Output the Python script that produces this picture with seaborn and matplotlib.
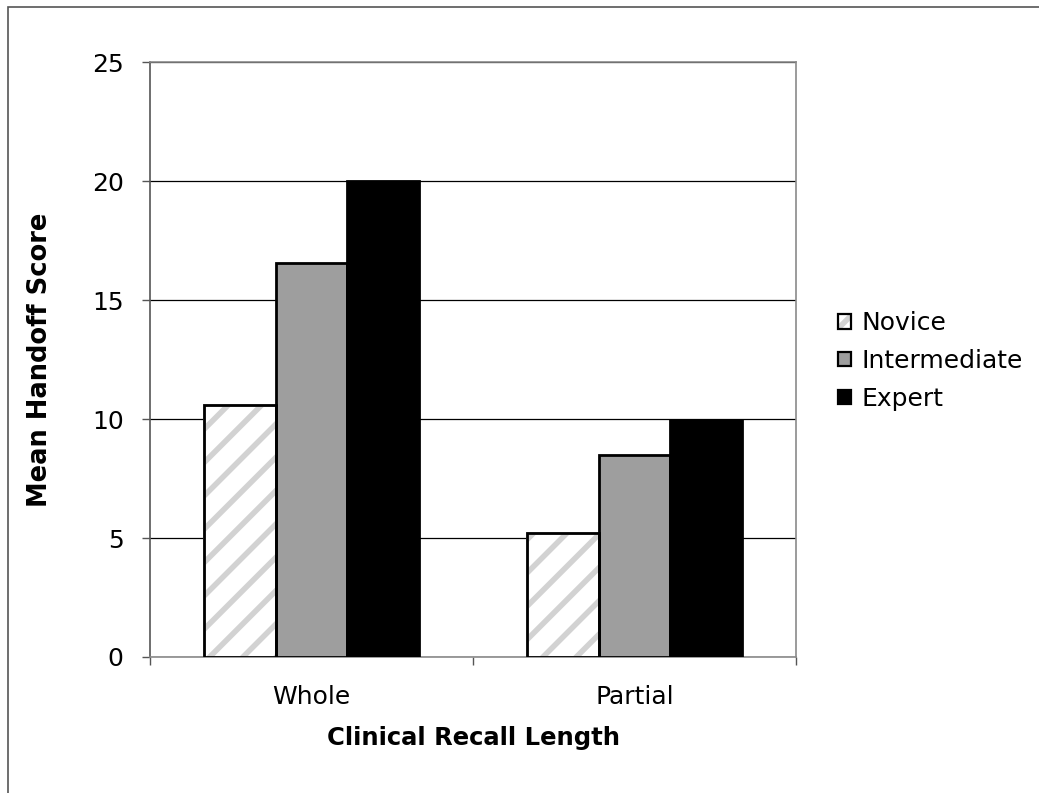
import matplotlib
matplotlib.use("Agg")
import matplotlib.pyplot as plt
import matplotlib.patches as mpatches
from matplotlib.legend_handler import HandlerTuple
import seaborn as sns
import pandas as pd

categories = ["Whole", "Partial"]
groups = ["Novice", "Intermediate", "Expert"]
novice = [10.6, 5.2]
intermediate = [16.55, 8.5]
expert = [20.0, 9.95]
yticks = [0, 5, 10, 15, 20, 25]

df = pd.DataFrame({
    "Length": categories * 3,
    "Group": ["Novice"] * 2 + ["Intermediate"] * 2 + ["Expert"] * 2,
    "Score": novice + intermediate + expert,
})

sns.set_theme(style="white")
plt.rcParams["font.family"] = ["DejaVu Sans"]
plt.rcParams["hatch.linewidth"] = 4.0
plt.rcParams["text.color"] = "black"
plt.rcParams["axes.labelcolor"] = "black"
plt.rcParams["xtick.color"] = "black"
plt.rcParams["ytick.color"] = "black"

DPI = 100
fig = plt.figure(figsize=(1039 / DPI, 793 / DPI), dpi=DPI)
ax = fig.add_axes([150 / 1039, 1 - 657 / 793, (796 - 150) / 1039, (657 - 62) / 793])

hatch_col = "#d2d2d2"
inter_col = "#9e9e9e"
palette = {"Novice": "white", "Intermediate": inter_col, "Expert": "black"}
sns.barplot(data=df, x="Length", y="Score", hue="Group", order=categories,
            hue_order=groups, palette=palette, width=0.667, edgecolor="black",
            linewidth=2.0, saturation=1, ax=ax, legend=False, zorder=3)

for p in ax.containers[0]:
    p.set_hatch("/")
    p.set_edgecolor(hatch_col)
    outline = mpatches.Rectangle(p.get_xy(), p.get_width(), p.get_height(),
                                 fill=False, edgecolor="black", linewidth=2.0, zorder=4)
    ax.add_patch(outline)

ax.set_ylim(0, 25)
ax.set_xlim(-0.5, 1.5)
ax.set_yticks(yticks)
ax.set_yticklabels([str(v) for v in yticks], fontsize=18)
ax.set_xticks([0, 1])
ax.set_xticklabels(categories, fontsize=18)
ax.set_xticks([-0.5, 0.5, 1.5], minor=True)
ax.tick_params(axis="x", which="major", length=0, pad=20)
ax.tick_params(axis="x", which="minor", length=6, width=1, color="#555555", direction="out", bottom=True)
ax.tick_params(axis="y", which="major", length=6, width=1, color="#555555", direction="out", left=True, pad=13)

ax.yaxis.grid(True, color="black", linewidth=0.9)
ax.set_axisbelow(True)
for s in ["top", "right", "bottom"]:
    ax.spines[s].set_color("#8a8a8a")
    ax.spines[s].set_linewidth(1.2)
ax.spines["left"].set_color("#555555")
ax.spines["left"].set_linewidth(1.2)

ax.set_xlabel("Clinical Recall Length", fontsize=17.5, fontweight="bold", labelpad=12.5)
ax.set_ylabel("Mean Handoff Score", fontsize=18.5, fontweight="bold", labelpad=28)

nov_handle = (mpatches.Patch(facecolor="white", edgecolor=hatch_col, hatch="/", linewidth=0),
              mpatches.Patch(fill=False, edgecolor="black", linewidth=1.6))
handles = [
    nov_handle,
    mpatches.Patch(facecolor=inter_col, edgecolor="black", linewidth=1.6),
    mpatches.Patch(facecolor="black", edgecolor="black", linewidth=1.6),
]
leg = fig.legend(handles, groups, loc="center left", bbox_to_anchor=(838 / 1039, 1 - 361 / 793),
                 frameon=False, fontsize=18, handlelength=0.52, handleheight=0.52,
                 handletextpad=0.4, labelspacing=0.55, borderpad=0, borderaxespad=0,
                 handler_map={tuple: HandlerTuple(ndivide=1, pad=0)})

border = mpatches.Rectangle((8 / 1039, -0.05), 1.2, 1 - 7 / 793 + 0.05, transform=fig.transFigure,
                            fill=False, edgecolor="#555555", linewidth=1.2)
fig.patches.append(border)

fig.savefig("out.png", dpi=DPI, facecolor="white")
